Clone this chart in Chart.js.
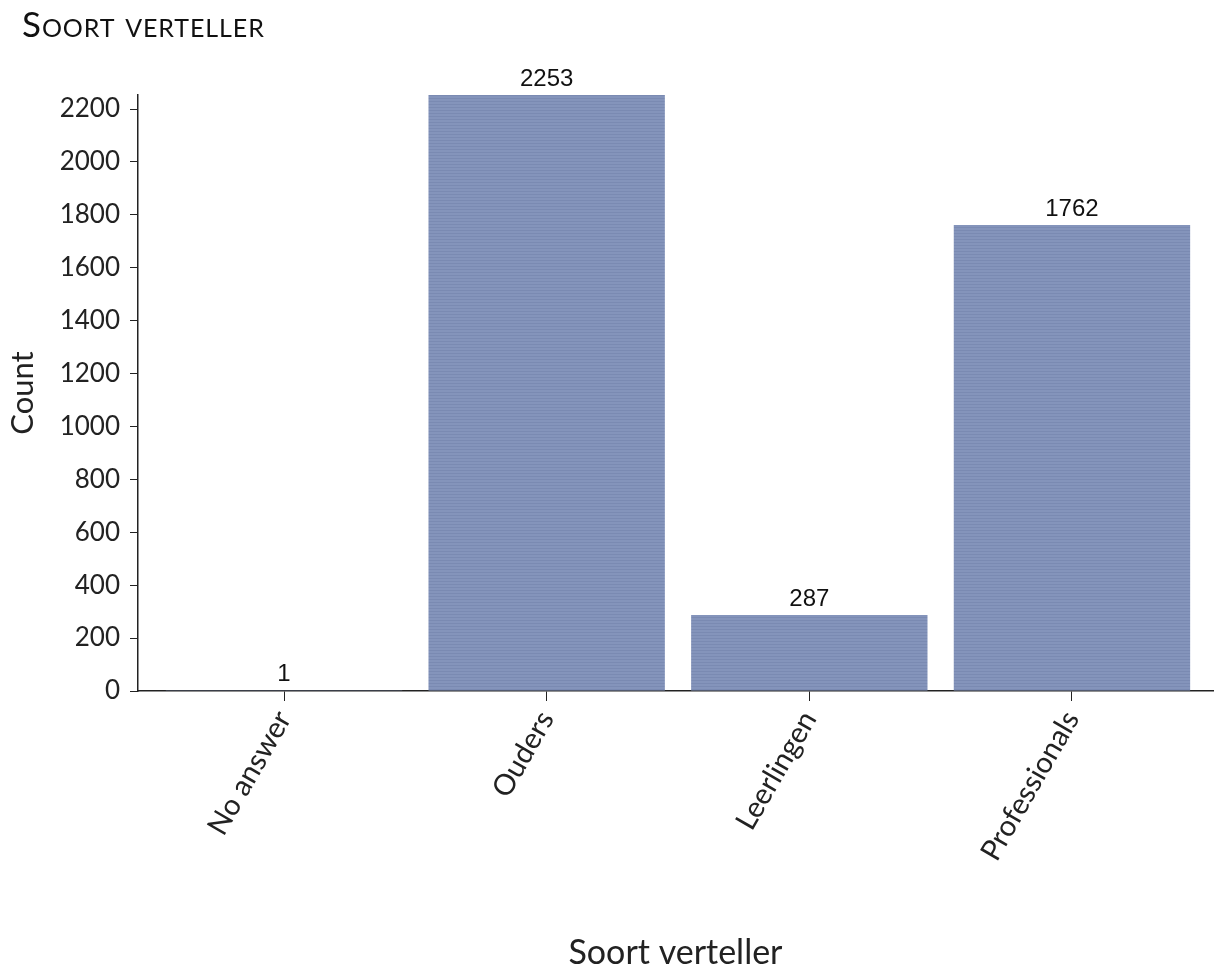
<!DOCTYPE html>
<html>
<head>
<meta charset="utf-8">
<script src="https://cdn.jsdelivr.net/npm/chart.js@4"></script>
<style>
  body { margin: 0; background: #fff; }
  #wrap { position: relative; width: 1214px; height: 968px; }
  #title {
    position: absolute; left: 22px; top: 2px;
    font-family: Lato, sans-serif; font-size: 35px; color: #111;
    font-variant: small-caps; letter-spacing: 0.9px;
  }
</style>
</head>
<body>
<div id="wrap">
  <div id="title">Soort verteller</div>
  <canvas id="chart" width="1214" height="968"></canvas>
</div>
<script>
const categories = ['No answer', 'Ouders', 'Leerlingen', 'Professionals'];
const counts = [1, 2253, 287, 1762];
const yTicks = [0, 200, 400, 600, 800, 1000, 1200, 1400, 1600, 1800, 2000, 2200];

// striped fill like the original bars
const pc = document.createElement('canvas');
pc.width = 4; pc.height = 3;
const pctx = pc.getContext('2d');
pctx.fillStyle = '#8494bb';
pctx.fillRect(0, 0, 4, 3);
pctx.fillStyle = '#7a8ab2';
pctx.fillRect(0, 2, 4, 1);
const stripes = pctx.createPattern(pc, 'repeat');

const valueLabels = {
  id: 'valueLabels',
  afterDatasetsDraw(chart) {
    const ctx = chart.ctx;
    const meta = chart.getDatasetMeta(0);
    ctx.save();
    ctx.font = '24px "Liberation Sans", Arial, sans-serif';
    ctx.fillStyle = '#111';
    ctx.textAlign = 'center';
    ctx.textBaseline = 'bottom';
    meta.data.forEach((bar, i) => {
      ctx.fillText(String(counts[i]), bar.x, bar.y - 4);
    });
    ctx.restore();
  }
};

new Chart(document.getElementById('chart'), {
  type: 'bar',
  data: {
    datasets: [{
      label: 'Count',
      data: counts.map((v, i) => ({ x: i, y: v })),
      backgroundColor: stripes,
      borderWidth: 0,
      barPercentage: 0.9,
      categoryPercentage: 1.0
    }]
  },
  options: {
    responsive: false,
    animation: false,
    layout: { padding: { top: 95, right: 1, left: 0, bottom: 0 } },
    plugins: {
      legend: { display: false },
      tooltip: { enabled: false }
    },
    scales: {
      x: {
        type: 'linear',
        offset: false,
        min: -0.556,
        max: 3.537,
        afterBuildTicks(scale) {
          scale.ticks = categories.map((c, i) => ({ value: i }));
        },
        afterFit(scale) { scale.height = 968 - 691; },
        ticks: {
          callback: (v) => categories[v],
          maxRotation: 60,
          minRotation: 60,
          color: '#222',
          font: { family: 'Lato, sans-serif', size: 29 },
          padding: 4
        },
        grid: { offset: false, drawOnChartArea: false, drawTicks: true, tickLength: 10, color: '#222' },
        border: { color: '#222', width: 1.5 },
        title: {
          display: true,
          text: 'Soort verteller',
          color: '#222',
          font: { family: 'Lato, sans-serif', size: 34 },
          padding: { top: 0, bottom: -5 }
        }
      },
      y: {
        min: 0,
        max: 2253,
        afterBuildTicks(scale) {
          scale.ticks = yTicks.map(v => ({ value: v }));
        },
        afterFit(scale) { scale.width = 138; },
        ticks: {
          callback: (v) => String(v),
          color: '#222',
          font: { family: 'Lato, sans-serif', size: 26 },
          padding: 10
        },
        grid: { drawOnChartArea: false, drawTicks: true, tickLength: 8, color: '#222' },
        border: { color: '#222', width: 1.5 },
        title: {
          display: true,
          text: 'Count',
          color: '#222',
          font: { family: 'Lato, sans-serif', size: 31 },
          padding: { top: 4, bottom: 0 }
        }
      }
    }
  },
  plugins: [valueLabels]
});
</script>
</body>
</html>
